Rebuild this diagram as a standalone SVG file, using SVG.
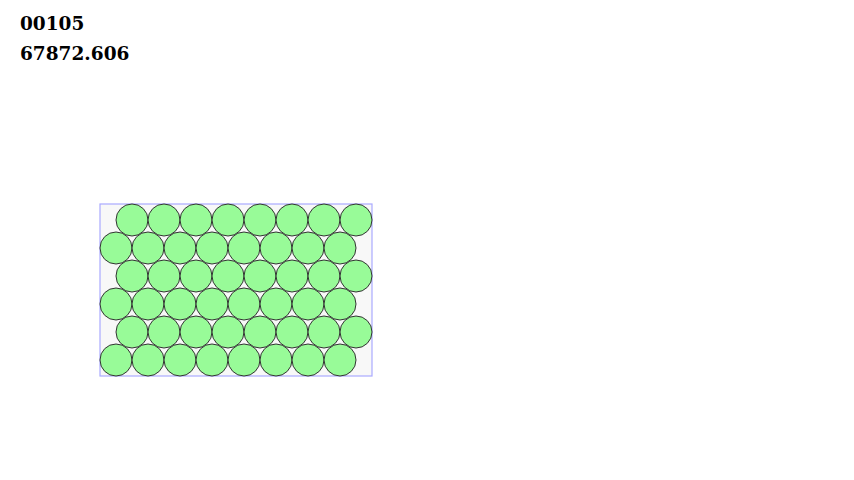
<svg xmlns="http://www.w3.org/2000/svg" width="854" height="480" viewBox="0 0 854 480">
<style>
.t{font-family:"DejaVu Serif",serif;font-weight:bold;font-size:18.5px;fill:#000}
.c{fill:#98fb98;stroke:#333;stroke-width:1}
</style>
<rect width="854" height="480" fill="#fff"/>
<text class="t" x="20" y="30">00105</text>
<text class="t" x="20" y="60">67872.606</text>
<rect x="100" y="204" width="272" height="172" fill="#f8f8f8" stroke="#aaaaff" stroke-width="1.2"/>
<g id="row1"><circle class="c" cx="132" cy="220" r="16"/><circle class="c" cx="164" cy="220" r="16"/><circle class="c" cx="196" cy="220" r="16"/><circle class="c" cx="228" cy="220" r="16"/><circle class="c" cx="260" cy="220" r="16"/><circle class="c" cx="292" cy="220" r="16"/><circle class="c" cx="324" cy="220" r="16"/><circle class="c" cx="356" cy="220" r="16"/></g>
<g id="row2"><circle class="c" cx="116" cy="248" r="16"/><circle class="c" cx="148" cy="248" r="16"/><circle class="c" cx="180" cy="248" r="16"/><circle class="c" cx="212" cy="248" r="16"/><circle class="c" cx="244" cy="248" r="16"/><circle class="c" cx="276" cy="248" r="16"/><circle class="c" cx="308" cy="248" r="16"/><circle class="c" cx="340" cy="248" r="16"/></g>
<g id="row3"><circle class="c" cx="132" cy="276" r="16"/><circle class="c" cx="164" cy="276" r="16"/><circle class="c" cx="196" cy="276" r="16"/><circle class="c" cx="228" cy="276" r="16"/><circle class="c" cx="260" cy="276" r="16"/><circle class="c" cx="292" cy="276" r="16"/><circle class="c" cx="324" cy="276" r="16"/><circle class="c" cx="356" cy="276" r="16"/></g>
<g id="row4"><circle class="c" cx="116" cy="304" r="16"/><circle class="c" cx="148" cy="304" r="16"/><circle class="c" cx="180" cy="304" r="16"/><circle class="c" cx="212" cy="304" r="16"/><circle class="c" cx="244" cy="304" r="16"/><circle class="c" cx="276" cy="304" r="16"/><circle class="c" cx="308" cy="304" r="16"/><circle class="c" cx="340" cy="304" r="16"/></g>
<g id="row5"><circle class="c" cx="132" cy="332" r="16"/><circle class="c" cx="164" cy="332" r="16"/><circle class="c" cx="196" cy="332" r="16"/><circle class="c" cx="228" cy="332" r="16"/><circle class="c" cx="260" cy="332" r="16"/><circle class="c" cx="292" cy="332" r="16"/><circle class="c" cx="324" cy="332" r="16"/><circle class="c" cx="356" cy="332" r="16"/></g>
<g id="row6"><circle class="c" cx="116" cy="360" r="16"/><circle class="c" cx="148" cy="360" r="16"/><circle class="c" cx="180" cy="360" r="16"/><circle class="c" cx="212" cy="360" r="16"/><circle class="c" cx="244" cy="360" r="16"/><circle class="c" cx="276" cy="360" r="16"/><circle class="c" cx="308" cy="360" r="16"/><circle class="c" cx="340" cy="360" r="16"/></g>
</svg>
